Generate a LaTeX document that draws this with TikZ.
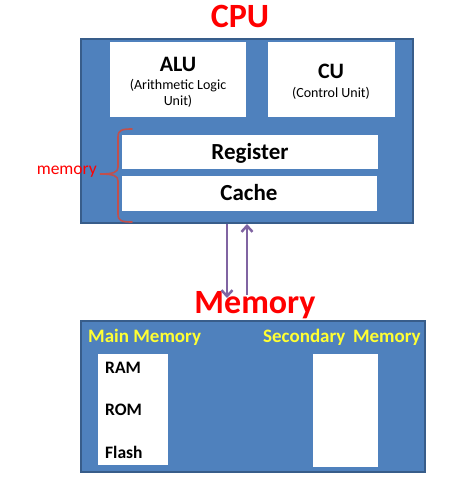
\documentclass[tikz,border=0pt]{standalone}
\usepackage{fontspec}
\setmainfont{Carlito}
\usetikzlibrary{arrows.meta}
\definecolor{boxblue}{HTML}{4F81BD}
\definecolor{boxedge}{HTML}{385D8A}
\definecolor{arrowpurple}{HTML}{8064A2}
\definecolor{bracered}{HTML}{C0504D}
\definecolor{titlered}{HTML}{FF0000}
\definecolor{labelyellow}{HTML}{FFFF33}
\tikzset{
  bluebox/.style={draw=boxedge, line width=1.2pt, fill=boxblue},
  whitebox/.style={fill=white, draw=none},
  title/.style={text=titlered, font=\bfseries\fontsize{34}{36}\selectfont},
  bigtext/.style={font=\bfseries\fontsize{22}{24}\selectfont},
  smalltext/.style={font=\fontsize{14}{16}\selectfont},
  midtext/.style={font=\bfseries\fontsize{23}{25}\selectfont},
  yellowtext/.style={text=labelyellow, font=\bfseries\fontsize{19}{21}\selectfont, anchor=west, inner sep=0pt},
  itemtext/.style={font=\bfseries\fontsize{17.5}{19}\selectfont, anchor=west, inner sep=0pt},
  flow/.style={draw=arrowpurple, line width=2.5pt, -{Straight Barb[length=6pt,width=11pt,line width=2.5pt]}}
}
\begin{document}
\begin{tikzpicture}[x=1pt,y=-1pt]
\useasboundingbox (0,0) rectangle (456,484);
% CPU
\node[title] (cputitle) at (240,16) {CPU};
\draw[bluebox] (81,39) rectangle (413,223);
\node[whitebox, minimum width=136pt, minimum height=75pt, anchor=north west, inner sep=0pt] (alu) at (110,42) {};
\node[whitebox, minimum width=127pt, minimum height=75pt, anchor=north west, inner sep=0pt] (cu) at (268,42) {};
\node[bigtext] (alut) at (178,64) {ALU};
\node[smalltext] (alus1) at (178,86) {(Arithmetic Logic};
\node[smalltext] (alus2) at (178,101) {Unit)};
\node[bigtext] (cut) at (331,71) {CU};
\node[smalltext] (cus) at (331,93) {(Control Unit)};
\node[whitebox, minimum width=256pt, minimum height=34pt, anchor=north west, inner sep=0pt] (reg) at (122,135) {};
\node[midtext] (regt) at (250,153) {Register};
\node[whitebox, minimum width=255pt, minimum height=35pt, anchor=north west, inner sep=0pt] (cache) at (122,176) {};
\node[midtext] (cachet) at (249,193) {Cache};
% brace
\draw[bracered, line width=1.6pt, line cap=round]
  (132,129) .. controls (122,129) and (118,130) .. (118,137)
  -- (118,167) .. controls (118,172) and (114,174) .. (100,174)
  .. controls (114,174) and (118,176) .. (118,181)
  -- (118,214) .. controls (118,221) and (122,222) .. (132,222);
\node[text=titlered, font=\fontsize{17.5}{19}\selectfont, anchor=east, inner sep=0pt] (memlabel) at (97,172) {memory};
% Memory
\node[title] (memtitle) at (255,305) {Memory};
\draw[bluebox] (81,321) rectangle (425,472);
\coordinate (cpubot1) at (227,224);
\coordinate (membot1) at (227,298);
\coordinate (memtop2) at (247,295);
\coordinate (cputop2) at (247,224);
\draw[flow] (cpubot1) -- (membot1);
\draw[flow] (memtop2) -- (cputop2);
\node[yellowtext] (mainmem) at (88,337) {Main Memory};
\node[yellowtext] (secmem) at (263,337) {Secondary\hspace{0.4em}Memory};
\node[whitebox, minimum width=70pt, minimum height=111pt, anchor=north west, inner sep=0pt] (mainbox) at (98,354) {};
\node[whitebox, minimum width=65pt, minimum height=113pt, anchor=north west, inner sep=0pt] (secbox) at (313,354) {};
\node[itemtext] (ram) at (105,368) {RAM};
\node[itemtext] (rom) at (105,410) {ROM};
\node[itemtext] (flash) at (105,452) {Flash};
\end{tikzpicture}
\end{document}
